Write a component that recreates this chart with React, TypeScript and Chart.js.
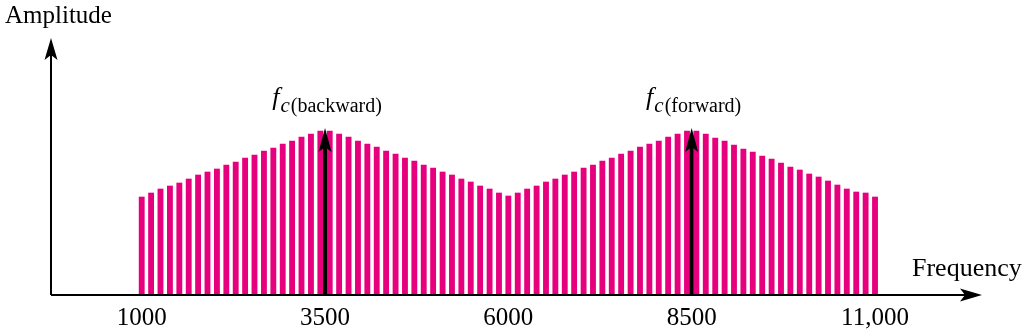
import React, { useEffect, useRef } from "react";
import { Chart, registerables } from "chart.js";

Chart.register(...registerables);

// Bar frequencies (Hz)
const frequencies = [
  1000, 1128, 1256, 1385, 1513, 1641, 1769, 1897, 2026, 2154,
  2282, 2410, 2538, 2667, 2795, 2923, 3051, 3179, 3308, 3436,
  3564, 3692, 3821, 3949, 4077, 4205, 4333, 4462, 4590, 4718,
  4846, 4974, 5103, 5231, 5359, 5487, 5615, 5744, 5872, 6000,
  6128, 6256, 6385, 6513, 6641, 6769, 6897, 7026, 7154, 7282,
  7410, 7538, 7667, 7795, 7923, 8051, 8179, 8308, 8436, 8564,
  8692, 8821, 8949, 9077, 9205, 9333, 9462, 9590, 9718, 9846,
  9974, 10103, 10231, 10359, 10487, 10615, 10744, 10872, 11000,
];

// Bar amplitudes (arbitrary units)
const amplitudes = [
  98, 102, 106, 109, 112, 116, 120, 123, 126, 130,
  133, 137, 140, 144, 147, 151, 154, 158, 161, 164,
  164, 161, 158, 154, 151, 148, 144, 141, 137, 134,
  130, 127, 123, 120, 116, 113, 109, 106, 102, 99,
  102, 106, 109, 113, 116, 120, 123, 127, 130, 134,
  137, 141, 144, 148, 151, 154, 158, 161, 164,
  164, 161, 157, 154, 150, 146, 143, 139, 136, 132,
  128, 125, 121, 118, 114, 110, 106, 103, 102, 98,
];

const tickValues = [1000, 3500, 6000, 8500, 11000];
const tickLabels = ["1000", "3500", "6000", "8500", "11,000"];

const carrierFreqs = [3500, 8500];
const carrierLabels = ["(backward)", "(forward)"];
const carrierAmp = 167;

const xAxisTitle = "Frequency";
const yAxisTitle = "Amplitude";

const SERIF = "'Liberation Serif', 'DejaVu Serif', serif";

function stealthHead(
  ctx: CanvasRenderingContext2D,
  tipX: number,
  tipY: number,
  dirX: number,
  dirY: number,
  len: number,
  half: number,
  notch: number
) {
  const px = -dirY;
  const py = dirX;
  const bx = tipX - dirX * len;
  const by = tipY - dirY * len;
  ctx.beginPath();
  ctx.moveTo(tipX, tipY);
  ctx.lineTo(bx + px * half, by + py * half);
  ctx.lineTo(tipX - dirX * (len - notch), tipY - dirY * (len - notch));
  ctx.lineTo(bx - px * half, by - py * half);
  ctx.closePath();
  ctx.fill();
}

const decorPlugin = {
  id: "decor",
  afterDatasetsDraw(chart: any) {
    const { ctx, chartArea, scales } = chart;
    const xs = scales.x;
    const ys = scales.y;
    const left = chartArea.left;
    const bottom = chartArea.bottom;
    ctx.save();
    ctx.fillStyle = "#000";
    ctx.strokeStyle = "#000";

    // axes
    ctx.lineWidth = 2;
    ctx.beginPath();
    ctx.moveTo(left, bottom);
    ctx.lineTo(left, chartArea.top + 10);
    ctx.moveTo(left, bottom);
    ctx.lineTo(chartArea.right - 10, bottom);
    ctx.stroke();
    stealthHead(ctx, left, chartArea.top, 0, -1, 22, 6.5, 5);
    stealthHead(ctx, chartArea.right, bottom, 1, 0, 22, 6.5, 5);

    // carrier arrows
    carrierFreqs.forEach((f, i) => {
      const x = xs.getPixelForValue(f);
      const yTip = ys.getPixelForValue(carrierAmp);
      ctx.lineWidth = 4;
      ctx.beginPath();
      ctx.moveTo(x, bottom);
      ctx.lineTo(x, yTip + 14);
      ctx.stroke();
      stealthHead(ctx, x, yTip, 0, -1, 24, 6.5, 5);

      // label f_c(...)
      const fFont = `italic 26px ${SERIF}`;
      const cFont = `italic 21px ${SERIF}`;
      const sFont = `20px ${SERIF}`;
      ctx.font = fFont;
      const wf = ctx.measureText("f").width;
      ctx.font = cFont;
      const wc = ctx.measureText("c").width;
      ctx.font = sFont;
      const ws = ctx.measureText(carrierLabels[i]).width;
      const total = wf + 1 + wc + 1 + ws;
      let cx = x - total / 2 + 2;
      ctx.textBaseline = "alphabetic";
      ctx.textAlign = "left";
      ctx.font = fFont;
      ctx.fillText("f", cx, 105);
      cx += wf + 1;
      ctx.font = cFont;
      ctx.fillText("c", cx, 112);
      cx += wc + 1;
      ctx.font = sFont;
      ctx.fillText(carrierLabels[i], cx, 112);
    });

    // axis titles
    ctx.textAlign = "left";
    ctx.textBaseline = "alphabetic";
    ctx.font = `25px ${SERIF}`;
    ctx.fillText(yAxisTitle, 5, 23);
    ctx.font = `26px ${SERIF}`;
    ctx.fillText(xAxisTitle, 912, 276);
    ctx.restore();
  },
};

export default function App() {
  const ref = useRef<HTMLCanvasElement | null>(null);

  useEffect(() => {
    document.body.style.margin = "0";
    const canvas = ref.current;
    if (!canvas) return;
    const chart = new Chart(canvas, {
      type: "bar",
      data: {
        datasets: [
          {
            data: frequencies.map((f, i) => ({ x: f, y: amplitudes[i] })),
            backgroundColor: "#E6007E",
            borderWidth: 0,
            barThickness: 5.2,
          } as any,
        ],
      },
      options: {
        responsive: false,
        animation: false,
        devicePixelRatio: 1,
        layout: { padding: { left: 51, right: 42, top: 38, bottom: 0 } },
        plugins: {
          legend: { display: false },
          tooltip: { enabled: false },
          title: { display: false },
        },
        scales: {
          x: {
            type: "linear",
            min: -237,
            max: 12459,
            offset: false,
            grid: { display: false, drawTicks: false },
            border: { display: false },
            afterBuildTicks: (scale: any) => {
              scale.ticks = tickValues.map((v) => ({ value: v }));
            },
            afterFit: (scale: any) => {
              scale.height = 37;
            },
            ticks: {
              autoSkip: false,
              maxRotation: 0,
              padding: 8,
              color: "#000",
              font: { family: SERIF, size: 25 },
              callback: (_v: any, i: number) => tickLabels[i],
            },
          },
          y: {
            display: false,
            min: 0,
            max: 257,
          },
        },
      } as any,
      plugins: [decorPlugin],
    });
    return () => chart.destroy();
  }, []);

  return (
    <div style={{ width: 1024, height: 332 }}>
      <canvas ref={ref} width={1024} height={332} style={{ display: "block" }} />
    </div>
  );
}
